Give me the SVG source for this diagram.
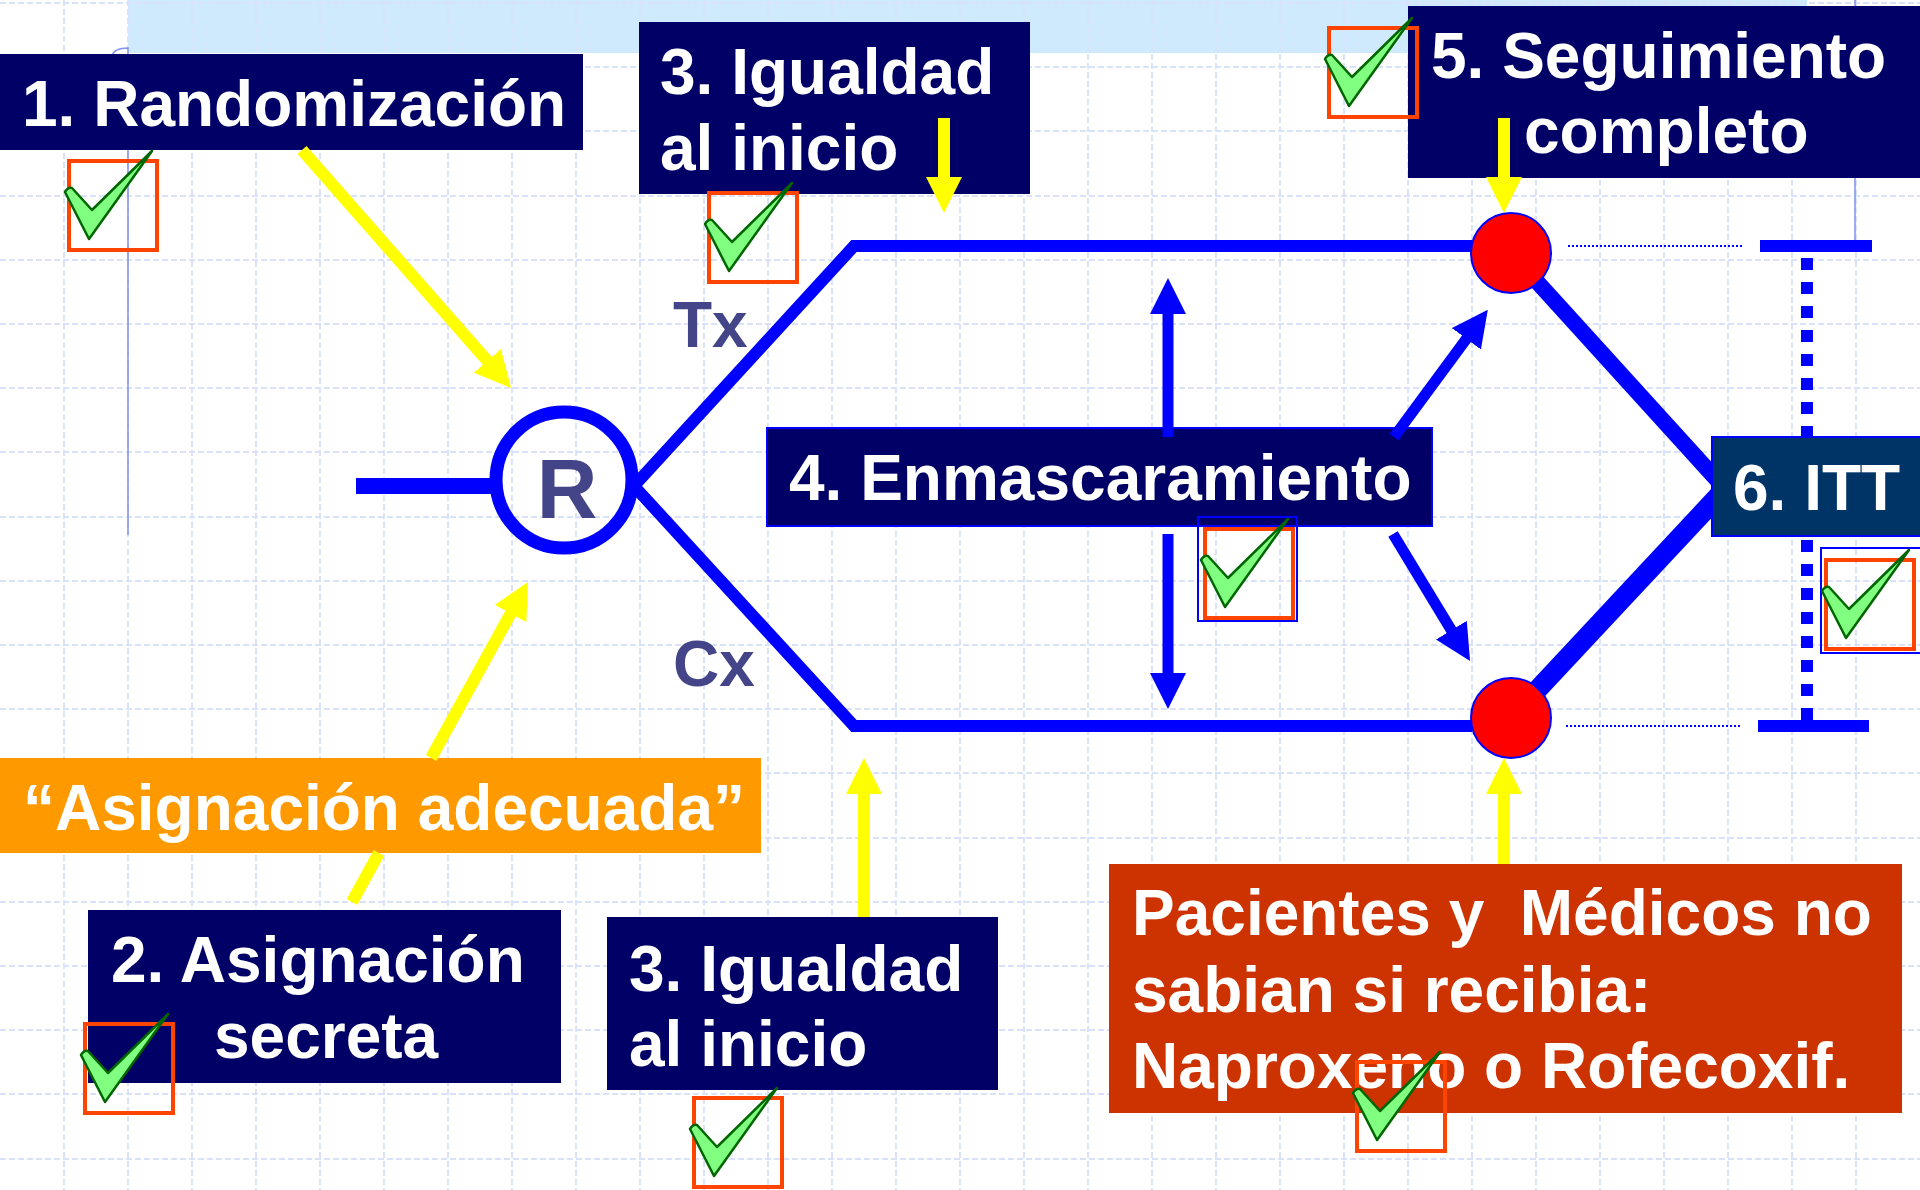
<svg xmlns="http://www.w3.org/2000/svg" width="1920" height="1190" viewBox="0 0 1920 1190">
<defs>
<style>
.t{font-family:"Liberation Sans",Arial,sans-serif;font-weight:bold;font-size:64px;fill:#ffffff}
.lb{font-family:"Liberation Sans",Arial,sans-serif;font-weight:bold;font-size:64px;fill:#444488}
.navy{fill:#000066}
.grid{stroke:#d9e2f9;stroke-width:2;stroke-dasharray:6 3;fill:none}
.thin{stroke:#8090ee;stroke-width:1.5;fill:none}
.bl{stroke:#0000ff;fill:none}
.ya{stroke:#ffff00;stroke-width:12;fill:none;marker-end:url(#yh)}
.yl{stroke:#ffff00;stroke-width:12;fill:none}
.ba{stroke:#0000ff;stroke-width:11;fill:none;marker-end:url(#bh)}
.dot{stroke:#0000ff;stroke-width:2;stroke-dasharray:2 2;fill:none}
.red{fill:#ff0000;stroke:#0000ff;stroke-width:2}
.ck{fill:#80ff80;stroke:#006600;stroke-width:2.5;stroke-linejoin:round}
.ckb{fill:none;stroke:#ff4400;stroke-width:4}
.ckbb{fill:none;stroke:#0000ff;stroke-width:2}
</style>
<marker id="bh" viewBox="0 0 36 36" markerWidth="36" markerHeight="36" refX="6" refY="18" orient="auto" markerUnits="userSpaceOnUse"><path d="M0,0L36,18L0,36Z" fill="#0000ff"/></marker>
<marker id="yh" viewBox="0 0 36 36" markerWidth="36" markerHeight="36" refX="6" refY="18" orient="auto" markerUnits="userSpaceOnUse"><path d="M0,0L36,18L0,36Z" fill="#ffff00"/></marker>
<clipPath id="leftOfItt"><rect x="0" y="0" width="1712" height="1190"/></clipPath>
<g id="chk">
<rect class="ckb" x="0" y="0" width="88" height="89"/>
<path class="ck" d="M-4,31 Q-1,26 3,27 L23,49 L83,-10 L20,78 Z"/>
</g>
</defs>
<rect x="0" y="0" width="1920" height="1190" fill="#ffffff"/>
<g id="background">
<rect x="128" y="0" width="1679" height="53" fill="#cfeafc"/>
<path class="grid" d="M64 0V1190M128 0V1190M192 0V1190M256 0V1190M320 0V1190M384 0V1190M448 0V1190M512 0V1190M576 0V1190M640 0V1190M704 0V1190M768 0V1190M832 0V1190M896 0V1190M960 0V1190M1024 0V1190M1088 0V1190M1152 0V1190M1216 0V1190M1280 0V1190M1344 0V1190M1408 0V1190M1472 0V1190M1536 0V1190M1600 0V1190M1664 0V1190M1728 0V1190M1792 0V1190M1856 0V1190"/>
<path class="grid" d="M0 3H1920M0 67H1920M0 131H1920M0 196H1920M0 260H1920M0 324H1920M0 388H1920M0 452H1920M0 517H1920M0 581H1920M0 645H1920M0 709H1920M0 773H1920M0 838H1920M0 902H1920M0 966H1920M0 1030H1920M0 1094H1920M0 1159H1920"/>
<path class="thin" d="M112,56 Q114,48 128,48 V535"/>
<path class="thin" d="M1855,0 V240"/>
</g>
<g id="nodes">
<g id="node-randomizacion"><rect class="navy" x="0" y="54" width="583" height="96"/><text class="t" x="22" y="126">1. Randomización</text></g>
<g id="node-igualdad-top"><rect class="navy" x="639" y="22" width="391" height="172"/><text class="t" x="660" y="94">3. Igualdad</text><text class="t" x="660" y="170">al inicio</text></g>
<g id="node-seguimiento"><rect class="navy" x="1408" y="6" width="512" height="172"/><text class="t" x="1431" y="78">5. Seguimiento</text><text class="t" x="1524" y="153">completo</text></g>
<g id="node-R"><circle cx="564" cy="480" r="68" fill="none" stroke="#0000ff" stroke-width="13"/><text class="lb" x="567" y="518" text-anchor="middle" style="font-size:84px">R</text></g>
<g id="node-enmascaramiento"><rect x="767" y="428" width="665" height="98" fill="#000066" stroke="#0000ff" stroke-width="2"/><text class="t" x="789" y="500">4. Enmascaramiento</text></g>
<g id="node-itt"><rect x="1712" y="437" width="212" height="99" fill="#003366" stroke="#0000ff" stroke-width="2"/><text class="t" x="1733" y="510">6. ITT</text></g>
<g id="node-adecuada"><rect x="0" y="758" width="761" height="95" fill="#ff9900"/><text class="t" x="23" y="830">“Asignación adecuada”</text></g>
<g id="node-secreta"><rect class="navy" x="88" y="910" width="473" height="173"/><text class="t" x="111" y="982">2. Asignación</text><text class="t" x="214" y="1058">secreta</text></g>
<g id="node-igualdad-bottom"><rect class="navy" x="607" y="917" width="391" height="173"/><text class="t" x="629" y="991">3. Igualdad</text><text class="t" x="629" y="1066">al inicio</text></g>
<g id="node-pacientes"><rect x="1109" y="864" width="793" height="249" fill="#cc3300"/><text class="t" x="1132" y="935" xml:space="preserve" style="white-space:pre">Pacientes y  Médicos no</text><text class="t" x="1132" y="1012">sabian si recibia:</text><text class="t" x="1132" y="1088">Naproxeno o Rofecoxif.</text></g>
<g id="node-end-tx"><circle class="red" cx="1511" cy="253" r="40"/></g>
<g id="node-end-cx"><circle class="red" cx="1511" cy="718" r="40"/></g>
</g>
<g id="connectors">
<line class="bl" x1="356" y1="486" x2="494" y2="486" stroke-width="16"/>
<path class="bl" d="M1472,246 H854 L634,486 L854,726 H1472" stroke-width="12" stroke-linejoin="miter"/>
<text class="lb" x="673" y="347">Tx</text>
<text class="lb" x="673" y="686">Cx</text>
<g clip-path="url(#leftOfItt)">
<line class="bl" x1="1537.2" y1="281.9" x2="1739" y2="504" stroke-width="16"/>
<line class="bl" x1="1537.6" y1="689.5" x2="1741" y2="471.7" stroke-width="20"/>
</g>
<line class="dot" x1="1568" y1="246" x2="1744" y2="246"/>
<line class="dot" x1="1566" y1="726" x2="1742" y2="726"/>
<line class="bl" x1="1760" y1="246" x2="1872" y2="246" stroke-width="12"/>
<line class="bl" x1="1758" y1="726" x2="1869" y2="726" stroke-width="12"/>
<line class="bl" x1="1807" y1="258" x2="1807" y2="437" stroke-width="12" stroke-dasharray="12 12"/>
<line class="bl" x1="1807" y1="540" x2="1807" y2="720" stroke-width="12" stroke-dasharray="12 12"/>
<line class="ba" x1="1168" y1="437" x2="1168" y2="308"/>
<line class="ba" x1="1168" y1="534" x2="1168" y2="679"/>
<line class="ba" x1="1394" y1="437" x2="1470" y2="334"/>
<line class="ba" x1="1393" y1="534" x2="1454.5" y2="635.3"/>
<line class="ya" x1="302" y1="150" x2="491.3" y2="365.4"/>
<line class="yl" x1="352" y1="902" x2="378.9" y2="853"/>
<line class="ya" x1="431.1" y1="758" x2="513.5" y2="608.3"/>
<line class="ya" x1="944" y1="118" x2="944" y2="183"/>
<line class="ya" x1="1504" y1="118" x2="1504" y2="183"/>
<line class="ya" x1="864" y1="917" x2="864" y2="788"/>
<line class="ya" x1="1504" y1="864" x2="1504" y2="788"/>
</g>
<g id="checks">
<use href="#chk" transform="translate(69,161)"/>
<use href="#chk" transform="translate(709,193)"/>
<use href="#chk" transform="translate(1329,28)"/>
<rect class="ckbb" x="1198" y="517" width="99" height="104"/>
<use href="#chk" transform="translate(1205,529)"/>
<rect class="ckbb" x="1821" y="548" width="105" height="105"/>
<use href="#chk" transform="translate(1826,560)"/>
<use href="#chk" transform="translate(85,1024)"/>
<use href="#chk" transform="translate(694,1098)"/>
<use href="#chk" transform="translate(1357,1062)"/>
</g>
</svg>
